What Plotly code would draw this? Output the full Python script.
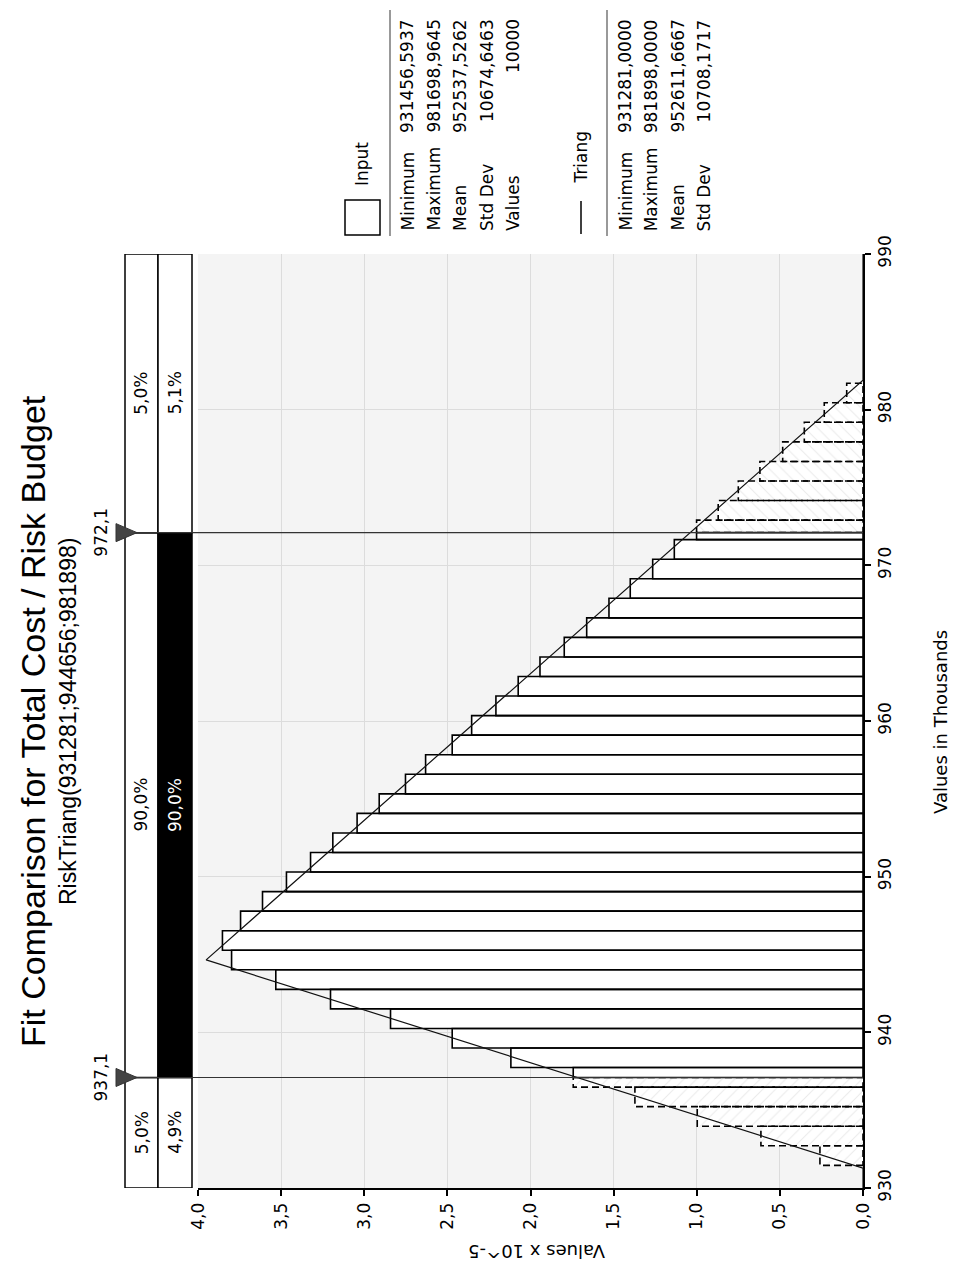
import plotly.graph_objects as go

# ---------------- data (values in thousands, density x 10^-5) ----------------
input_min = 931.4565937
input_max = 981.6989645
n_bins = 40
density = [0.259, 0.614, 0.997, 1.372, 1.743, 2.118, 2.471, 2.842, 3.203, 3.532,
           3.798, 3.853, 3.744, 3.612, 3.468, 3.323, 3.189, 3.043, 2.910, 2.752,
           2.631, 2.471, 2.354, 2.208, 2.074, 1.943, 1.797, 1.662, 1.528, 1.400,
           1.265, 1.135, 1.001, 0.871, 0.750, 0.620, 0.483, 0.353, 0.233, 0.098]
tri_curve_v = [930.0, 931.281, 944.656, 981.898, 990.0]
tri_curve_d = [0.0, 0.0, 3.951, 0.0, 0.0]
delims = [937.1, 972.1]
pct_fit = ["5,0%", "90,0%", "5,0%"]
pct_input = ["4,9%", "90,0%", "5,1%"]
x_ticks = [0.0, 0.5, 1.0, 1.5, 2.0, 2.5, 3.0, 3.5, 4.0]
y_ticks = [930, 940, 950, 960, 970, 980, 990]
title = "Fit Comparison for Total Cost / Risk Budget"
subtitle = "RiskTriang(931281;944656;981898)"
input_stats = [("Minimum", "931456,5937"), ("Maximum", "981698,9645"),
               ("Mean", "952537,5262"), ("Std Dev", "10674,6463"), ("Values", "10000")]
triang_stats = [("Minimum", "931281,0000"), ("Maximum", "981898,0000"),
                ("Mean", "952611,6667"), ("Std Dev", "10708,1717")]

# ---------------- geometry helpers (page pixel coords) ----------------
OFF = 8                      # default body margin of the html page
L, R, T, B = 198, 863, 254, 1188
W, H = 961 - 2 * OFF, 1281 - 2 * OFF


def px(xp):
    return (xp - L) / (R - L)


def py(yp):
    return (B - yp) / (B - T)


SMALL = "DejaVu Sans"
TITLEF = "Liberation Sans"

fig = go.Figure()

# ---------------- histogram bars, split at delimiters ----------------
bw = (input_max - input_min) / n_bins
solid_x, solid_y = [], []
low_x, low_y = [], []
up_x, up_y = [], []


def add_rect(xs, ys, lo, hi, d):
    xs += [0, d, d, 0, 0, None]
    ys += [lo, lo, hi, hi, lo, None]


for k, d in enumerate(density):
    lo = input_min + k * bw
    hi = lo + bw
    if lo < delims[0]:
        add_rect(low_x, low_y, lo, min(hi, delims[0]), d)
    if hi > delims[1]:
        add_rect(up_x, up_y, max(lo, delims[1]), hi, d)
    a, b = max(lo, delims[0]), min(hi, delims[1])
    if b > a:
        add_rect(solid_x, solid_y, a, b, d)

fig.add_trace(go.Scatter(x=low_x, y=low_y, mode="lines", fill="toself",
                         fillcolor="white",
                         fillpattern=dict(shape="/", fgcolor="#d6d6d6", bgcolor="white",
                                          size=9, solidity=0.12),
                         line=dict(color="black", width=1.6, dash="7px,4px"),
                         hoverinfo="skip"))
fig.add_trace(go.Scatter(x=up_x, y=up_y, mode="lines", fill="toself",
                         fillcolor="white",
                         fillpattern=dict(shape="\\", fgcolor="#d6d6d6", bgcolor="white",
                                          size=9, solidity=0.12),
                         line=dict(color="black", width=1.6, dash="7px,4px"),
                         hoverinfo="skip"))
fig.add_trace(go.Scatter(x=solid_x, y=solid_y, mode="lines", fill="toself",
                         fillcolor="white",
                         line=dict(color="black", width=1.6),
                         hoverinfo="skip"))

# fitted triangular density
fig.add_trace(go.Scatter(x=tri_curve_d, y=tri_curve_v, mode="lines",
                         line=dict(color="#111111", width=1.2),
                         cliponaxis=False, hoverinfo="skip"))

shapes = []
ann = []


def note(x, y, text, font, xref="paper", yref="paper", angle=-90,
         xanchor="center", yanchor="middle"):
    ann.append(dict(xref=xref, yref=yref, x=x, y=y, text=text, textangle=angle,
                    showarrow=False, xanchor=xanchor, yanchor=yanchor, font=font))


# ---------------- delimiter columns ----------------
c1a, c1b, c2b = px(125), px(158), px(192)
ymin, ymax = y_ticks[0], y_ticks[-1]
segs = [(ymin, delims[0]), (delims[0], delims[1]), (delims[1], ymax)]
for i, (s0, s1) in enumerate(segs):
    shapes.append(dict(type="rect", xref="paper", yref="y", x0=c1a, x1=c1b, y0=s0, y1=s1,
                       line=dict(color="black", width=1.5), fillcolor="white", layer="above"))
    fill = "black" if i == 1 else "white"
    shapes.append(dict(type="rect", xref="paper", yref="y", x0=c1b, x1=c2b, y0=s0, y1=s1,
                       line=dict(color="black", width=1.5), fillcolor=fill, layer="above"))
    mid = (s0 + s1) / 2
    note((c1a + c1b) / 2, mid, pct_fit[i], dict(family=SMALL, size=17, color="black"),
         yref="y")
    note((c1b + c2b) / 2, mid, pct_input[i],
         dict(family=SMALL, size=17, color="white" if i == 1 else "black"), yref="y")

# delimiter lines, markers and labels
half = 9 / ((B - T) / (ymax - ymin))
for v in delims:
    shapes.append(dict(type="line", xref="paper", yref="y", x0=px(125), x1=1, y0=v, y1=v,
                       line=dict(color="#333333", width=1.2), layer="above"))
    shapes.append(dict(type="path", xref="paper", yref="y",
                       path=f"M {px(116)},{v - half} L {px(116)},{v + half} L {px(137)},{v} Z",
                       fillcolor="#444444", line=dict(color="#333333", width=1), layer="above"))
    note(px(101), v, f"{v:.1f}".replace(".", ","), dict(family=SMALL, size=17, color="black"),
         yref="y")

# ---------------- titles ----------------
note(px(33), py(721), title, dict(family=TITLEF, size=34, color="black"))
note(px(68), py(722), subtitle, dict(family=TITLEF, size=23, color="black"))
note(px(537), py(1252), "Values x 10^-5", dict(family=SMALL, size=18, color="black"), angle=180)
note(px(940), py(722), "Values in Thousands", dict(family=SMALL, size=18, color="black"))

# ---------------- legend (rotated) ----------------
LF = dict(family=SMALL, size=17, color="black")
shapes.append(dict(type="rect", xref="paper", yref="paper", x0=px(345), x1=px(380),
                   y0=py(235), y1=py(200), line=dict(color="black", width=1.5),
                   fillcolor="white"))
note(px(362), py(188), "Input", LF, yanchor="bottom")
shapes.append(dict(type="line", xref="paper", yref="paper", x0=px(581), x1=px(581),
                   y0=py(234), y1=py(201), line=dict(color="black", width=1.5)))
note(px(581), py(186), "Triang", LF, yanchor="bottom")
for sx in (390, 607):
    shapes.append(dict(type="line", xref="paper", yref="paper", x0=px(sx), x1=px(sx),
                       y0=py(236), y1=py(10), line=dict(color="#777777", width=1.5)))
for i, (lab, val) in enumerate(input_stats):
    xc = px(407 + 26.5 * i)
    note(xc, py(233), lab, LF, yanchor="bottom")
    note(xc, py(17), val, LF, yanchor="top")
for i, (lab, val) in enumerate(triang_stats):
    xc = px(625 + 26.3 * i)
    note(xc, py(233), lab, LF, yanchor="bottom")
    note(xc, py(17), val, LF, yanchor="top")

fig.update_layout(
    width=W, height=H,
    margin=dict(l=L - OFF, r=W - (R - OFF), t=T - OFF, b=H - (B - OFF), pad=0),
    paper_bgcolor="white", plot_bgcolor="#f4f4f4",
    separators=",.",
    showlegend=False,
    shapes=shapes, annotations=ann,
    xaxis=dict(range=[4.0, 0.0], tickvals=x_ticks, tickformat=".1f", tickangle=-90,
               showgrid=True, gridcolor="#dcdcdc", gridwidth=1, zeroline=False,
               showline=True, linecolor="black", linewidth=2,
               ticks="outside", ticklen=6, tickwidth=1.5, tickcolor="black",
               tickfont=dict(family=SMALL, size=17, color="black")),
    yaxis=dict(range=[ymin, ymax], tickvals=y_ticks, side="right", tickangle=-90,
               showgrid=True, gridcolor="#dcdcdc", gridwidth=1, zeroline=False,
               showline=True, linecolor="black", linewidth=2,
               ticks="outside", ticklen=6, tickwidth=1.5, tickcolor="black",
               tickfont=dict(family=SMALL, size=17, color="black")),
)

fig.write_html("out.html")
